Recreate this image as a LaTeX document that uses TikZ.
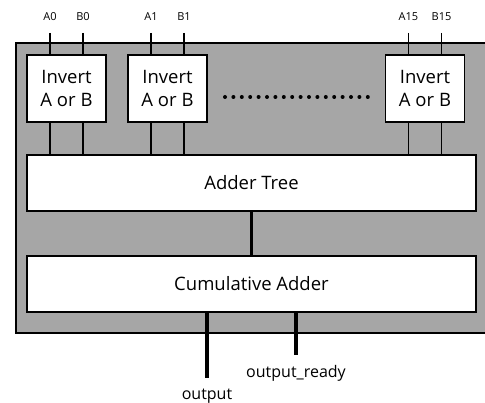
\documentclass[tikz,border=0pt]{standalone}
\usepackage{fontspec}
\setmainfont{Open Sans}
\definecolor{chipgray}{HTML}{A6A6A6}
\tikzset{
  blockbox/.style={draw, fill=white, line width=1.2pt, inner sep=0pt, align=center},
  wire/.style={line width=1.2pt},
  bus/.style={line width=3.5pt},
  pinlabel/.style={font=\fontsize{11}{13}\selectfont, inner sep=0pt},
  outlabel/.style={font=\fontsize{16}{19}\selectfont, inner sep=0pt}
}
\begin{document}
\begin{tikzpicture}[x=1pt, y=-1pt]
    \useasboundingbox (0,0) rectangle (485,403);
    % Contenitore
    \path[draw, fill=chipgray, line width=1.4pt] (16,43) rectangle (492,333);

    % Blocchi di inversione
    \foreach \i/\cx/\na/\nb in {0/66.5/A0/B0, 1/167.5/A1/B1, 15/425/A15/B15} {
        \node[blockbox, minimum width=79pt, minimum height=67pt,
              font=\fontsize{18.5}{23}\selectfont] (inv\i) at (\cx,88.5) {Invert\\A or B};
        \coordinate (a\i) at (\cx-16.5,33);
        \coordinate (b\i) at (\cx+16.5,33);
        \node[pinlabel, anchor=base] (la\i) at ([yshift=12pt]a\i) {\na};
        \node[pinlabel, anchor=base] (lb\i) at ([yshift=12pt]b\i) {\nb};
    }

    % Puntini
    \foreach \k in {0,...,17}
        \fill (225+\k*8.4,97) circle (2pt);

    % Albero di somma e accumulatore
    \node[blockbox, minimum width=449pt, minimum height=56pt,
          font=\fontsize{18.5}{22}\selectfont] (tree) at (251.5,183) {Adder Tree};
    \node[blockbox, minimum width=449pt, minimum height=56pt,
          font=\fontsize{18.5}{22}\selectfont] (cumul) at (251.5,284) {Cumulative Adder};

    % Collegamenti
    \foreach \i in {0,1,15} {
        \draw[wire] (a\i) -- (a\i |- inv\i.north);
        \draw[wire] (b\i) -- (b\i |- inv\i.north);
        \draw[wire] (inv\i.south -| a\i) -- (tree.north -| a\i);
        \draw[wire] (inv\i.south -| b\i) -- (tree.north -| b\i);
    }
    \draw[bus] (tree.south) -- (cumul.north);

    % Uscite
    \coordinate (out) at (207,378);
    \coordinate (rdy) at (296,355);
    \draw[bus] (cumul.south -| out) -- (out);
    \draw[bus] (cumul.south -| rdy) -- (rdy);
    \node[outlabel, anchor=base] (lout) at ([yshift=-22pt]out) {output};
    \node[outlabel, anchor=base] (lrdy) at ([yshift=-23pt]rdy) {output\_ready};
\end{tikzpicture}
\end{document}
